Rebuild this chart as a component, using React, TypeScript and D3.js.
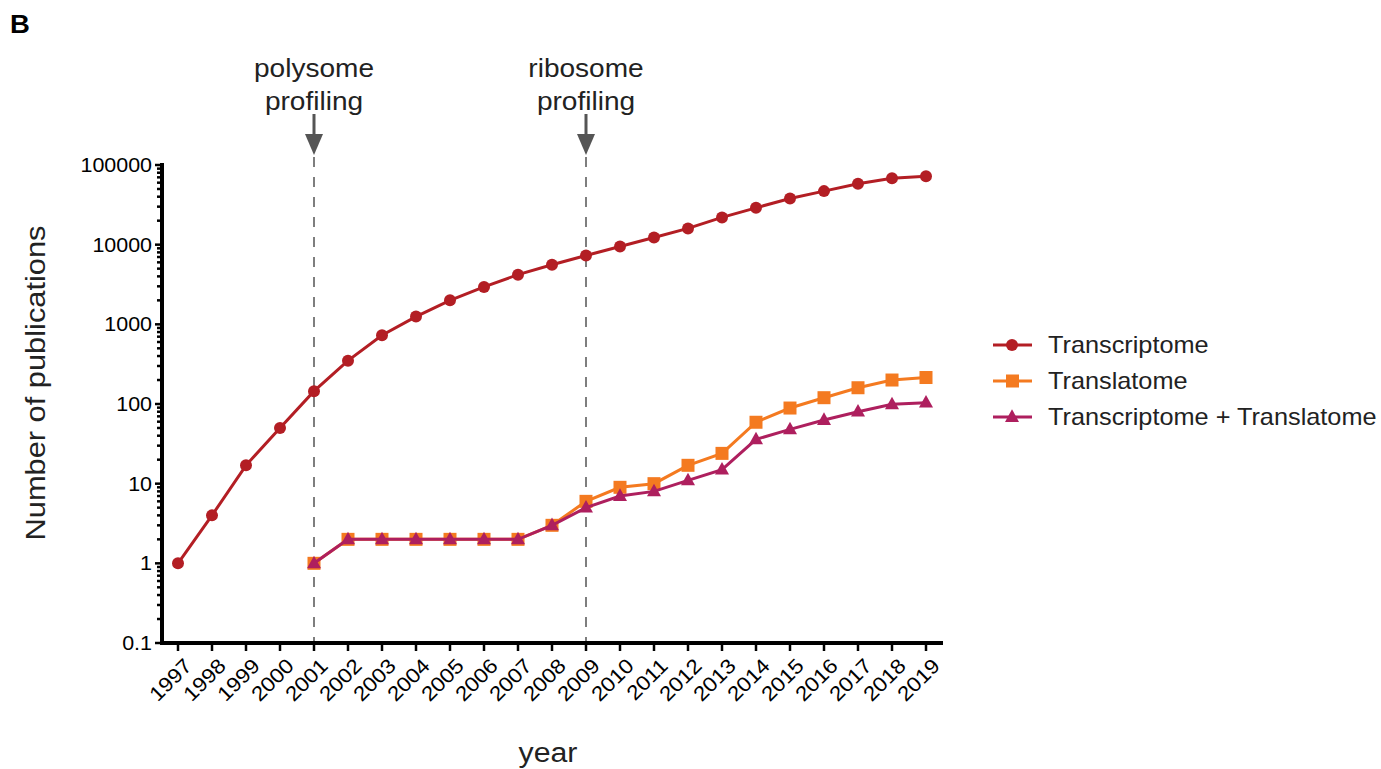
import React from "react";
import * as d3 from "d3";

const years = [1997,1998,1999,2000,2001,2002,2003,2004,2005,2006,2007,2008,2009,2010,2011,2012,2013,2014,2015,2016,2017,2018,2019];
const transcriptome = [1,4,17,50,145,350,730,1250,2000,2950,4200,5600,7300,9500,12300,16000,22000,29000,38000,47000,58000,68000,72000];
const translatomeYears = [2001,2002,2003,2004,2005,2006,2007,2008,2009,2010,2011,2012,2013,2014,2015,2016,2017,2018,2019];
const translatome = [1,2,2,2,2,2,2,3,6,9,10,17,24,59,89,120,160,200,215];
const both = [1,2,2,2,2,2,2,3,5,7,8,11,15,36,48,63,80,99,104];
const yTicks = [0.1,1,10,100,1000,10000,100000];
const annotations = [{ year: 2001, lines: ["polysome", "profiling"] }, { year: 2009, lines: ["ribosome", "profiling"] }];
const legendItems = ["Transcriptome", "Translatome", "Transcriptome + Translatome"];

const colors = ["#B31E24", "#F47A20", "#AE1F5E"];
const FONT = "'Liberation Sans', Arial, Helvetica, sans-serif";
const SX = 1.1;

function T(props: { x: number; y: number; rot?: number; size: number; anchor?: string; dy?: string; fill?: string; weight?: string; children: React.ReactNode }) {
  const { x, y, rot = 0, size, anchor = "start", dy, fill = "#1a1a1a", weight, children } = props;
  return (
    <text transform={`translate(${x},${y}) rotate(${rot}) scale(${SX},1)`} fontSize={size} textAnchor={anchor} dy={dy} fill={fill} fontWeight={weight}>
      {children}
    </text>
  );
}

export default function App() {
  const W = 1381, H = 769;
  const x = d3.scaleLinear().domain([1997, 2019]).range([178, 926]);
  const y = d3.scaleLog().domain([0.1, 100000]).range([643, 165]);
  const line = d3.line<[number, number]>().x(d => x(d[0])).y(d => y(d[1]));

  const s1: [number, number][] = years.map((yr, i) => [yr, transcriptome[i]]);
  const s2: [number, number][] = translatomeYears.map((yr, i) => [yr, translatome[i]]);
  const s3: [number, number][] = translatomeYears.map((yr, i) => [yr, both[i]]);

  const minor: number[] = [];
  for (let e = -1; e < 5; e++) for (let k = 2; k <= 9; k++) minor.push(k * Math.pow(10, e));

  const fmt = (v: number) => (v < 1 ? "0.1" : String(v));
  const tri = (cx: number, cy: number, r: number) =>
    `M${cx},${cy - r * 1.1} L${cx + r},${cy + r * 0.7} L${cx - r},${cy + r * 0.7} Z`;

  return (
    <svg width={W} height={H} style={{ position: "absolute", left: 0, top: 0 }} fontFamily={FONT}>
      <rect width={W} height={H} fill="#fff" />
      <T x={10} y={33} size={25} weight="bold" fill="#000">B</T>

      {/* dashed lines & annotations */}
      {annotations.map(a => (
        <g key={a.year}>
          <line x1={x(a.year)} x2={x(a.year)} y1={157} y2={643} stroke="#3a3a3a" strokeWidth={1.3} strokeDasharray="10,10" />
          <line x1={x(a.year)} x2={x(a.year)} y1={114} y2={138} stroke="#555" strokeWidth={3} />
          <path d={`M${x(a.year) - 9},${134} L${x(a.year) + 9},${134} L${x(a.year)},${155} Z`} fill="#555" />
          {a.lines.map((t, i) => (
            <T key={i} x={x(a.year)} y={77 + i * 33} size={25.5} anchor="middle" fill="#222">{t}</T>
          ))}
        </g>
      ))}

      {/* y axis */}
      <line x1={162} x2={162} y1={163} y2={645} stroke="#000" strokeWidth={4} />
      {minor.map((v, i) => (
        <line key={i} x1={157} x2={162} y1={y(v)} y2={y(v)} stroke="#000" strokeWidth={2.5} />
      ))}
      {yTicks.map(v => (
        <g key={v}>
          <line x1={155} x2={162} y1={y(v)} y2={y(v)} stroke="#000" strokeWidth={2.5} />
          <T x={152} y={y(v)} dy="0.36em" size={19.5} anchor="end" fill="#000">{fmt(v)}</T>
        </g>
      ))}

      {/* x axis */}
      <line x1={160} x2={943} y1={643} y2={643} stroke="#000" strokeWidth={4} />
      {years.map(yr => (
        <g key={yr}>
          <line x1={x(yr)} x2={x(yr)} y1={643} y2={651} stroke="#000" strokeWidth={2.5} />
          <T x={x(yr) + 5} y={657} rot={-45} size={20.5} anchor="end" dy="0.7em" fill="#000">{yr}</T>
        </g>
      ))}

      <T x={548} y={762} size={27.5} anchor="middle" fill="#222">year</T>
      <T x={45} y={383} rot={-90} size={28} anchor="middle" fill="#222">Number of publications</T>

      {/* series */}
      <path d={line(s1) || ""} fill="none" stroke={colors[0]} strokeWidth={3} />
      {s1.map((d, i) => <circle key={i} cx={x(d[0])} cy={y(d[1])} r={6} fill={colors[0]} />)}

      <path d={line(s2) || ""} fill="none" stroke={colors[1]} strokeWidth={3} />
      {s2.map((d, i) => <rect key={i} x={x(d[0]) - 6.5} y={y(d[1]) - 6.5} width={13} height={13} fill={colors[1]} />)}

      <path d={line(s3) || ""} fill="none" stroke={colors[2]} strokeWidth={3} />
      {s3.map((d, i) => <path key={i} d={tri(x(d[0]), y(d[1]), 7)} fill={colors[2]} />)}

      {/* legend */}
      {legendItems.map((t, i) => {
        const ly = 345 + i * 36;
        return (
          <g key={t}>
            <line x1={993} x2={1032} y1={ly} y2={ly} stroke={colors[i]} strokeWidth={3} />
            {i === 0 && <circle cx={1012} cy={ly} r={6} fill={colors[0]} />}
            {i === 1 && <rect x={1006} y={ly - 6.5} width={13} height={13} fill={colors[1]} />}
            {i === 2 && <path d={tri(1012, ly, 7)} fill={colors[2]} />}
            <T x={1048} y={ly} dy="0.36em" size={23} fill="#222">{t}</T>
          </g>
        );
      })}
    </svg>
  );
}
